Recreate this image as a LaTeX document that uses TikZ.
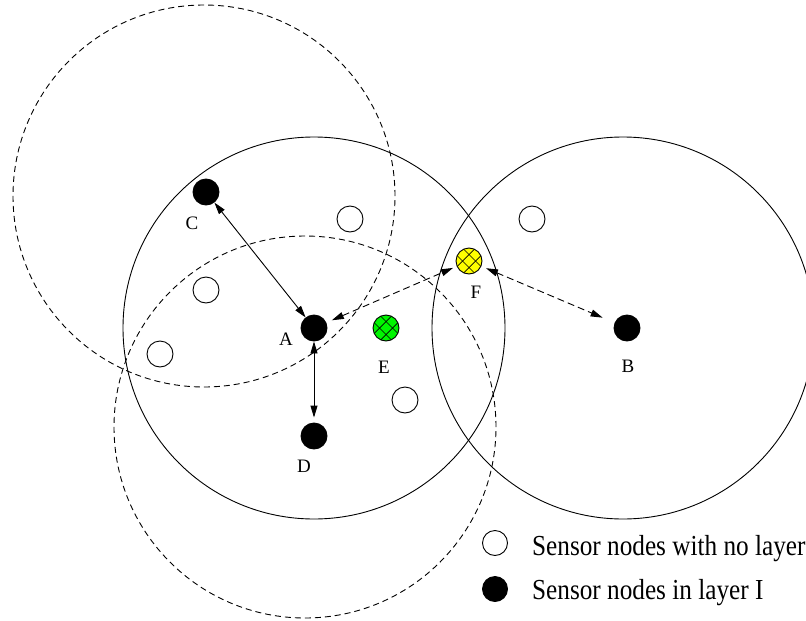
\documentclass[tikz,border=0pt]{standalone}
\usepackage{fontspec}
\usepackage{graphicx}
\setmainfont{Liberation Serif}
\usetikzlibrary{arrows.meta}
\definecolor{egreen}{RGB}{0,245,0}
\definecolor{fyellow}{RGB}{255,255,0}
\tikzset{
  solidrange/.style={line width=0.9pt},
  dashrange/.style={line width=0.9pt, dash pattern=on 6pt off 4pt},
  sensor/.style={circle, inner sep=0pt, minimum size=26pt, line width=0.9pt},
  layered/.style={sensor, fill=black, draw=black},
  free/.style={sensor, draw=black, fill=white},
  hatched/.style={sensor, draw=black, fill=#1, path picture={
    \foreach \c in {-19.5,-6.5,6.5,19.5}{
      \draw[line width=0.7pt, shift={(path picture bounding box.center)}] (-30,{\c+30}) -- (30,{\c-30});
      \draw[line width=0.7pt, shift={(path picture bounding box.center)}] (-30,{\c-30}) -- (30,{\c+30});
    }}},
  lbl/.style={font=\fontsize{19}{22}\selectfont, inner sep=0pt},
  link/.style={line width=0.9pt, {Triangle[length=12pt,width=7pt]}-{Triangle[length=12pt,width=7pt]}},
  linkdash/.style={link, dash pattern=on 7pt off 4pt},
  legtext/.style={anchor=base west, inner sep=0pt},
}
\newcommand{\legfont}[1]{\scalebox{0.87}[1]{\fontsize{29}{34}\selectfont #1}}
\begin{document}
\begin{tikzpicture}[x=1pt, y=-1pt]
  \useasboundingbox (0,0) rectangle (806,621);
  % ranges
  \draw[solidrange] (314,328) circle[radius=191pt];
  \draw[solidrange] (623,328) circle[radius=191pt];
  \draw[dashrange] (204,196) circle[radius=191pt];
  \draw[dashrange] (305,427) circle[radius=191pt];
  % sensor nodes
  \node[layered] (C) at (206,192) {};
  \node[layered] (A) at (314,328) {};
  \node[layered] (D) at (314,436) {};
  \node[layered] (B) at (627,328) {};
  \node[hatched=egreen] (E) at (386,328) {};
  \node[hatched=fyellow] (F) at (469,261) {};
  \node[free] (o1) at (350,219) {};
  \node[free] (o2) at (532,219) {};
  \node[free] (o3) at (206,290) {};
  \node[free] (o4) at (160,354) {};
  \node[free] (o5) at (405,400) {};
  % labels
  \node[lbl] (lC) at (192,223) {C};
  \node[lbl] (lA) at (286,339) {A};
  \node[lbl] (lE) at (384,367) {E};
  \node[lbl] (lF) at (476,292) {F};
  \node[lbl] (lB) at (628,366) {B};
  \node[lbl] (lD) at (304,466) {D};
  % links
  \draw[link] (C) -- (A);
  \draw[link, shorten >=5pt] (A) -- (D);
  \draw[linkdash, shorten <=6pt, shorten >=4pt] (A) -- (F);
  \draw[linkdash, shorten <=5pt, shorten >=13pt] (F) -- (B);
  % legend
  \node[free, minimum size=25pt] (k1) at (495,543) {};
  \node[layered, minimum size=25pt] (k2) at (495,589) {};
  \node[legtext] (t1) at (532,555) {\legfont{Sensor nodes with no layer}};
  \node[legtext] (t2) at (532,599) {\legfont{Sensor nodes in layer I}};
\end{tikzpicture}
\end{document}
